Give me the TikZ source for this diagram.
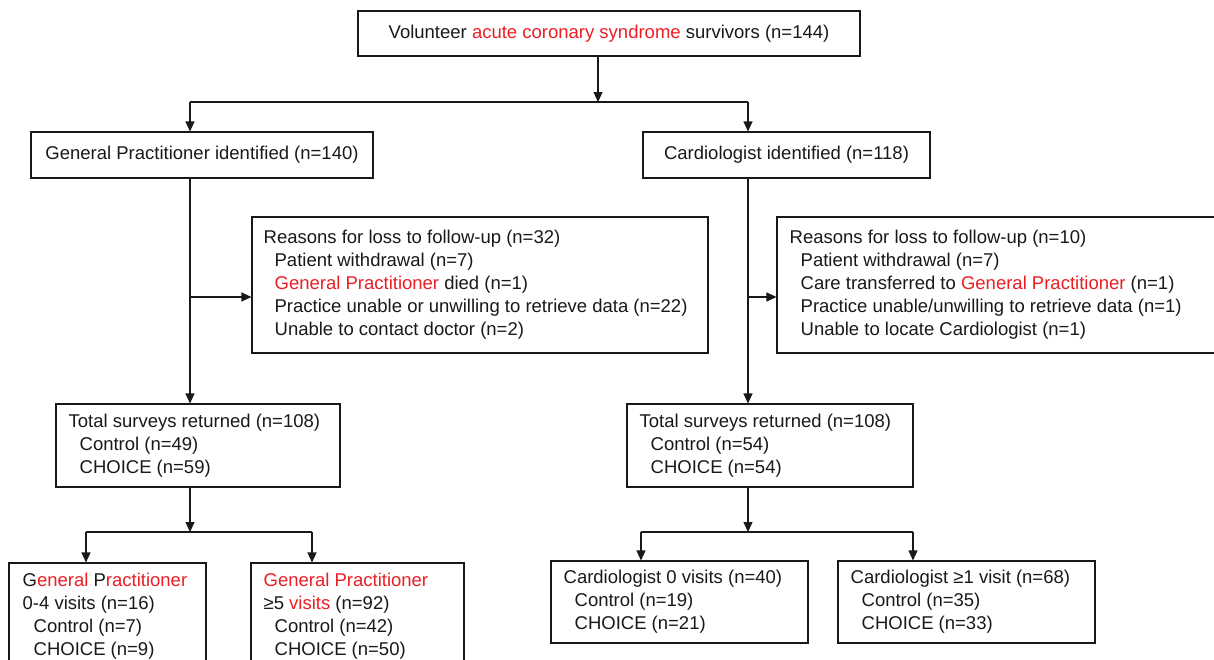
\documentclass[tikz,border=0pt]{standalone}
\usepackage{fontspec}
\setmainfont{Liberation Sans}
\usetikzlibrary{arrows.meta}
\definecolor{hl}{RGB}{235,30,36}
\definecolor{ink}{RGB}{25,25,25}
\newcommand{\hr}[1]{\textcolor{hl}{#1}}
\newcommand{\ind}{\hspace*{11pt}}
\begin{document}
\begin{tikzpicture}[x=1pt,y=-1pt,
  every node/.style={font=\fontsize{18.5}{23}\selectfont, text=ink},
  box/.style={draw=ink, line width=1.1pt, rectangle, inner sep=0pt},
  txt/.style={inner sep=0pt, align=left, anchor=west},
  conn/.style={draw=ink, line width=1.1pt},
  arr/.style={conn, -{Triangle[length=10pt,width=9pt]}}]
\useasboundingbox (0,0) rectangle (1214,659);
\clip (0,0) rectangle (1214,659);
\fill[white] (0,0) rectangle (1214,659);

% boxes
\node[box, minimum width=502pt, minimum height=45pt] (top) at (609,33.5)
  {Volunteer \hr{acute coronary syndrome} survivors (n=144)};
\node[box, minimum width=342pt, minimum height=46pt] (gp) at (202,155)
  {General Practitioner identified (n=140)};
\node[box, minimum width=287pt, minimum height=46pt] (cd) at (786.5,155)
  {Cardiologist identified (n=118)};

\node[box, minimum width=456pt, minimum height=136pt] (rL) at (480,285) {};
\node[txt] (rLt) at ([xshift=12pt]rL.west)
  {Reasons for loss to follow-up (n=32)\\
   \ind Patient withdrawal (n=7)\\
   \ind \hr{General Practitioner} died (n=1)\\
   \ind Practice unable or unwilling to retrieve data (n=22)\\
   \ind Unable to contact doctor (n=2)};

\node[box, minimum width=447pt, minimum height=136pt] (rR) at (1000.5,285) {};
\node[txt] (rRt) at ([xshift=13pt]rR.west)
  {Reasons for loss to follow-up (n=10)\\
   \ind Patient withdrawal (n=7)\\
   \ind Care transferred to \hr{General Practitioner} (n=1)\\
   \ind Practice unable/unwilling to retrieve data (n=1)\\
   \ind Unable to locate Cardiologist (n=1)};

\node[box, minimum width=284pt, minimum height=83pt] (tL) at (198,445.5) {};
\node[txt] (tLt) at ([xshift=13pt]tL.west)
  {Total surveys returned (n=108)\\
   \ind Control (n=49)\\
   \ind CHOICE (n=59)};

\node[box, minimum width=286pt, minimum height=83pt] (tR) at (770,445.5) {};
\node[txt] (tRt) at ([xshift=13pt]tR.west)
  {Total surveys returned (n=108)\\
   \ind Control (n=54)\\
   \ind CHOICE (n=54)};

\node[box, minimum width=197pt, minimum height=106pt] (g1) at (107.5,616) {};
\node[txt] (g1t) at ([xshift=14pt]g1.west)
  {G\hr{eneral} P\hr{ractitioner}\\
   0-4 visits (n=16)\\
   \ind Control (n=7)\\
   \ind CHOICE (n=9)};

\node[box, minimum width=213pt, minimum height=106pt] (g2) at (357.5,616) {};
\node[txt] (g2t) at ([xshift=13pt]g2.west)
  {\hr{General Practitioner}\\
   ≥5 \hr{visits} (n=92)\\
   \ind Control (n=42)\\
   \ind CHOICE (n=50)};

\node[box, minimum width=257pt, minimum height=82pt] (c1) at (679.5,602) {};
\node[txt] (c1t) at ([xshift=13pt]c1.west)
  {Cardiologist 0 visits (n=40)\\
   \ind Control (n=19)\\
   \ind CHOICE (n=21)};

\node[box, minimum width=257pt, minimum height=82pt] (c2) at (966.5,602) {};
\node[txt] (c2t) at ([xshift=13pt]c2.west)
  {Cardiologist ≥1 visit (n=68)\\
   \ind Control (n=35)\\
   \ind CHOICE (n=33)};

% junction coordinates
\coordinate (j1) at (598,102);
\coordinate (jL) at (190,102);
\coordinate (jR) at (748,102);
\coordinate (bL) at (190,297);
\coordinate (bR) at (748,297);
\coordinate (kL) at (190,532);
\coordinate (kR) at (748,532);
\coordinate (kL1) at (86,532);
\coordinate (kL2) at (312,532);
\coordinate (kR1) at (641,532);
\coordinate (kR2) at (913,532);

% connectors
\draw[arr] (top.south -| j1) -- (j1);
\draw[conn] (jL) -- (jR);
\draw[arr] (jL) -- (gp.north -| jL);
\draw[arr] (jR) -- (cd.north -| jR);

\draw[arr] (gp.south -| jL) -- (tL.north -| jL);
\draw[arr] (bL) -- (rL.west |- bL);
\draw[arr] (cd.south -| jR) -- (tR.north -| jR);
\draw[arr] (bR) -- (rR.west |- bR);

\draw[arr] (tL.south -| kL) -- (kL);
\draw[conn] (kL1) -- (kL2);
\draw[arr] (kL1) -- (g1.north -| kL1);
\draw[arr] (kL2) -- (g2.north -| kL2);

\draw[arr] (tR.south -| kR) -- (kR);
\draw[conn] (kR1) -- (kR2);
\draw[arr] (kR1) -- (c1.north -| kR1);
\draw[arr] (kR2) -- (c2.north -| kR2);
\end{tikzpicture}
\end{document}
